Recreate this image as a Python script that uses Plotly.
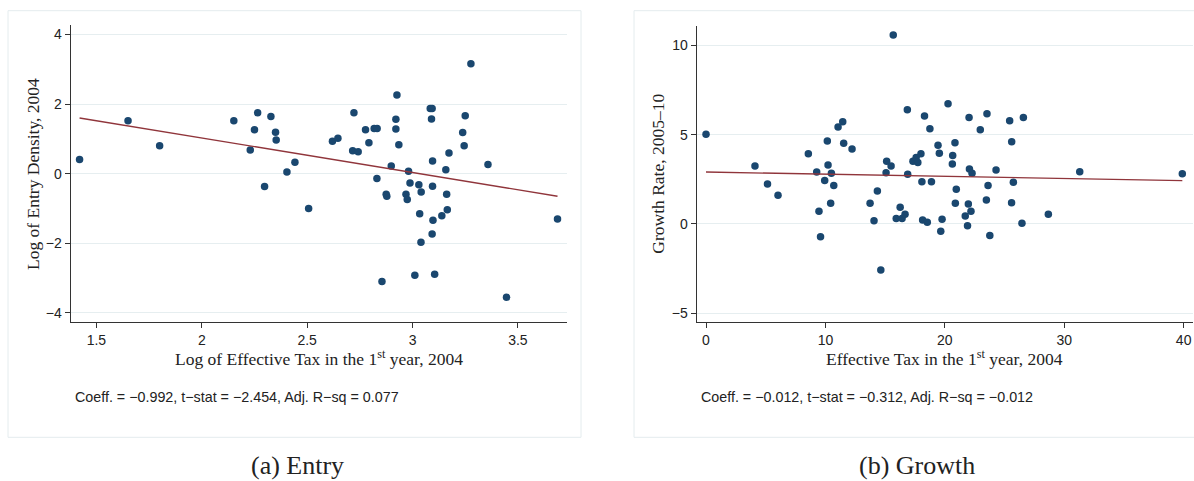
import plotly.graph_objects as go

# ---------------- data ----------------
entry_tax_log = [1.42, 1.65, 1.80, 2.152, 2.23, 2.25, 2.265, 2.298, 2.328, 2.35, 2.353, 2.404, 2.442,
                 2.507, 2.62, 2.646, 2.722, 2.716, 2.742, 2.777, 2.793, 2.818, 2.832, 2.831, 2.875,
                 2.878, 2.899, 2.921, 2.921, 2.926, 2.935, 2.969, 2.975, 2.981, 2.988, 3.030, 3.041,
                 3.034, 3.084, 3.093, 3.09, 3.095, 3.095, 3.097, 3.139, 3.158, 3.162, 3.165, 3.173,
                 3.238, 3.245, 3.25, 3.277, 3.358, 3.688, 3.093, 3.04, 2.855, 3.011, 3.105, 3.446]
entry_density_log = [0.41, 1.52, 0.80, 1.52, 0.68, 1.26, 1.75, -0.37, 1.64, 1.19, 0.97, 0.05, 0.33,
                     -1.00, 0.93, 1.02, 1.75, 0.66, 0.63, 1.26, 0.89, 1.30, 1.30, -0.14, -0.59,
                     -0.65, 0.22, 1.56, 1.28, 2.26, 0.83, -0.59, -0.74, 0.07, -0.27, -0.32, -0.53,
                     -1.15, 1.87, 1.87, 1.57, 0.36, -0.36, -1.34, -1.21, 0.11, -0.59, -1.04, 0.59,
                     1.18, 0.80, 1.66, 3.16, 0.26, -1.30, -1.73, -1.97, -3.10, -2.92, -2.89, -3.55]
entry_fit_const = 3.009
entry_fit_coef = -0.992

growth_tax = [0.0, 4.10, 5.15, 6.03, 8.57, 9.27, 9.46, 9.94, 10.16, 10.22, 10.44, 10.5, 10.70, 11.06,
              11.45, 11.53, 12.23, 13.74, 14.07, 14.35, 15.08, 15.13, 15.5, 15.68, 16.26, 15.93,
              16.42, 16.67, 16.86, 16.89, 17.33, 17.6, 17.74, 18.0, 18.08, 18.88, 18.3, 18.75,
              20.27, 22.03, 23.53, 22.97, 25.43, 26.58, 19.43, 20.85, 19.54, 20.66, 20.63, 25.6,
              22.06, 22.28, 24.29, 23.62, 25.74, 20.96, 31.3, 39.89, 20.88, 21.97, 23.48, 25.59,
              22.19, 28.67, 18.14, 18.53, 19.77, 19.66, 21.71, 21.9, 23.77, 26.46, 9.59, 14.64]
growth_rate = [5.03, 3.25, 2.24, 1.61, 3.94, 2.91, 0.71, 2.43, 4.65, 3.31, 1.16, 2.84, 2.15, 5.43,
               5.73, 4.52, 4.20, 1.16, 0.18, 1.85, 2.87, 3.51, 3.25, 10.59, 0.94, 0.30,
               0.30, 0.54, 6.40, 2.78, 3.51, 3.72, 3.44, 3.94, 2.37, 2.37, 6.05, 5.34,
               6.74, 5.96, 6.18, 5.28, 5.79, 5.96, 4.41, 4.55, 3.96, 3.83, 3.36, 4.61,
               3.08, 2.84, 3.03, 2.15, 2.34, 1.94, 2.93, 2.82, 1.16, 1.12, 1.34, 1.19,
               0.71, 0.54, 0.22, 0.09, 0.26, -0.41, 0.45, -0.10, -0.65, 0.04, -0.71, -2.58]
growth_fit_const = 2.91
growth_fit_coef = -0.012

entry_xticks = [1.5, 2, 2.5, 3, 3.5]
entry_xticklabels = ["1.5", "2", "2.5", "3", "3.5"]
entry_yticks = [-4, -2, 0, 2, 4]
growth_xticks = [0, 10, 20, 30, 40]
growth_yticks = [-5, 0, 5, 10]

entry_note = "Coeff. = \u22120.992, t\u2212stat = \u22122.454, Adj. R\u2212sq = 0.077"
growth_note = "Coeff. = \u22120.012, t\u2212stat = \u22120.312, Adj. R\u2212sq = \u22120.012"

# ---------------- style ----------------
W, H = 1194, 481
NAVY = "#1a476f"
MAROON = "#90353b"
GRID = "#e6eef0"
FRAME = "#e4ecee"
SANS = "Liberation Sans, Arial, sans-serif"
SERIF = "Liberation Serif, Times New Roman, serif"

def px(x):
    return x / W

def py(y):
    return 1 - y / H

fig = go.Figure()

# scatter + fit lines
fig.add_trace(go.Scatter(x=entry_tax_log, y=entry_density_log, mode="markers",
                         marker=dict(color=NAVY, size=7.5, line=dict(width=0)),
                         xaxis="x", yaxis="y", showlegend=False))
ex = [min(entry_tax_log), max(entry_tax_log)]
fig.add_trace(go.Scatter(x=ex, y=[entry_fit_const + entry_fit_coef * v for v in ex], mode="lines",
                         line=dict(color=MAROON, width=1.4), xaxis="x", yaxis="y", showlegend=False))

fig.add_trace(go.Scatter(x=growth_tax, y=growth_rate, mode="markers",
                         marker=dict(color=NAVY, size=7.5, line=dict(width=0)),
                         xaxis="x2", yaxis="y2", showlegend=False))
gx = [min(growth_tax), max(growth_tax)]
fig.add_trace(go.Scatter(x=gx, y=[growth_fit_const + growth_fit_coef * v for v in gx], mode="lines",
                         line=dict(color=MAROON, width=1.4), xaxis="x2", yaxis="y2", showlegend=False))

axis_common = dict(showline=True, linecolor="#333333", linewidth=1.3, ticks="outside", ticklen=5,
                   tickcolor="#333333", tickwidth=1, zeroline=False,
                   tickfont=dict(family=SANS, size=14, color="#222222"))

fig.update_layout(
    width=W, height=H, margin=dict(l=0, r=0, t=0, b=0),
    paper_bgcolor="white", plot_bgcolor="white",
    xaxis=dict(domain=[px(70.7), px(567)], range=[1.378, 3.733], tickvals=entry_xticks,
               ticktext=entry_xticklabels, showgrid=False, anchor="y", **axis_common),
    yaxis=dict(domain=[py(322.3), py(25)], range=[-4.27, 4.27], tickvals=entry_yticks,
               showgrid=True, gridcolor=GRID, gridwidth=1.2, anchor="x", **axis_common),
    xaxis2=dict(domain=[px(696.7), px(1192.7)], range=[-0.78, 40.76], tickvals=growth_xticks,
                showgrid=False, anchor="y2", **axis_common),
    yaxis2=dict(domain=[py(322.3), py(25.7)], range=[-5.51, 11.11], tickvals=growth_yticks,
                showgrid=True, gridcolor=GRID, gridwidth=1.2, anchor="x2", **axis_common),
)

# panel frames
fig.add_shape(type="rect", xref="paper", yref="paper", x0=px(8), x1=px(581), y0=py(437.3), y1=py(10.7),
              line=dict(color=FRAME, width=1), layer="below")
fig.add_shape(type="rect", xref="paper", yref="paper", x0=px(634), x1=px(1196), y0=py(437.3), y1=py(10.7),
              line=dict(color=FRAME, width=1), layer="below")

def ann(text, x, y, size, family, angle=0, xanchor="center"):
    fig.add_annotation(text=text, xref="paper", yref="paper", x=px(x), y=py(y), showarrow=False,
                       xanchor=xanchor, yanchor="middle", textangle=angle,
                       font=dict(family=family, size=size, color="#222222"))

# axis titles
ann("Log of Effective Tax in the 1<sup>st</sup> year, 2004", 318.5, 358, 17.5, SERIF)
ann("Log of Entry Density, 2004", 33, 174, 17.5, SERIF, angle=-90)
ann("Effective Tax in the 1<sup>st</sup> year, 2004", 944.7, 358, 17.5, SERIF)
ann("Growth Rate, 2005\u201310", 657.7, 174, 17.5, SERIF, angle=-90)

# notes
ann(entry_note, 73, 396.7, 14.3, SANS, xanchor="left")
ann(growth_note, 699, 396.7, 14.3, SANS, xanchor="left")

# captions
ann("(a) Entry", 297, 465, 26, SERIF)
ann("(b) Growth", 917, 465, 26, SERIF)

fig.write_html("out.html")
